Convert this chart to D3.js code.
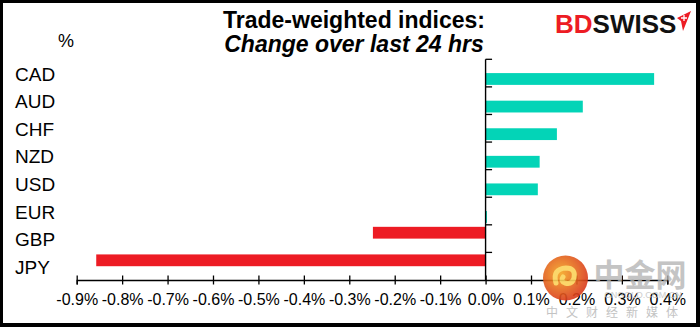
<!DOCTYPE html>
<html><head><meta charset="utf-8">
<script src="https://cdn.jsdelivr.net/npm/d3@7"></script>
<style>
body{margin:0;background:#fff}
svg{display:block;font-family:"Liberation Sans",Arial,sans-serif}
</style></head>
<body><svg id="c" width="700" height="327"></svg>
<script>
const categories = ["CAD","AUD","CHF","NZD","USD","EUR","GBP","JPY"];
const gains  = [0.371, 0.214, 0.157, 0.119, 0.115, 0.003, 0, 0];
const losses = [0, 0, 0, 0, 0, 0, -0.248, -0.857];
const xTicks = [-0.9,-0.8,-0.7,-0.6,-0.5,-0.4,-0.3,-0.2,-0.1,0.0,0.1,0.2,0.3,0.4];
const titleLines = ["Trade-weighted indices:", "Change over last 24 hrs"];
const unitLabel = "%";

const svg = d3.select("#c");
const W = 700, H = 327;
svg.append("rect").attr("width",W).attr("height",H).attr("fill","#fff");

const x = d3.scaleLinear().domain([-0.9, 0.4]).range([76.7, 667.3]);
const y = d3.scaleBand().domain(categories).range([59.3, 280]).padding(0);
const sub = d3.scaleBand().domain(["loss","gain"]).range([0, y.bandwidth()]).paddingInner(0).paddingOuter(0.17);

const series = [
  {key:"loss", values:losses, color:"#ED1C24"},
  {key:"gain", values:gains, color:"#03D4B7"}
];

// bars
series.forEach(s => {
  svg.append("g").selectAll("rect")
    .data(categories.map((c,i)=>({c, v:s.values[i]})).filter(d=>d.v!==0))
    .join("rect")
    .attr("x", d => Math.min(x(0), x(d.v)))
    .attr("width", d => Math.abs(x(d.v) - x(0)))
    .attr("y", d => y(d.c) + sub(s.key))
    .attr("height", sub.bandwidth())
    .attr("fill", s.color);
});

// x axis
const xAxis = svg.append("g").attr("transform","translate(0,280)")
  .call(d3.axisBottom(x).tickValues(xTicks).tickSizeOuter(0).tickSize(4.5)
        .tickFormat(d => d.toFixed(1) + "%"));
xAxis.select(".domain").attr("stroke","#000").attr("stroke-width",1.4);
xAxis.selectAll(".tick line").attr("y1",-4.5).attr("y2",4.5).attr("stroke","#000").attr("stroke-width",1.3);
xAxis.selectAll(".tick text").attr("y",25).attr("dy",0)
  .attr("font-size",16).attr("fill","#000")
  .attr("font-family","'Liberation Sans',Arial,sans-serif");

// y axis (at zero)
const yAxis = svg.append("g");
yAxis.append("line").attr("x1",x(0)).attr("x2",x(0))
  .attr("y1",y.range()[0]).attr("y2",y.range()[1])
  .attr("stroke","#000").attr("stroke-width",1.4);
yAxis.selectAll("line.t").data(categories).join("line").attr("class","t")
  .attr("x1",x(0)).attr("x2",x(0)+6.5)
  .attr("y1",d=>y(d)).attr("y2",d=>y(d))
  .attr("stroke","#000").attr("stroke-width",1.3);

// category labels
svg.append("g").selectAll("text").data(categories).join("text")
  .attr("x",15).attr("y",d=>y(d)+y.bandwidth()/2+1)
  .attr("dominant-baseline","central")
  .attr("font-size",19).attr("fill","#000").text(d=>d);

// unit
svg.append("text").attr("x",66).attr("y",47).attr("text-anchor","middle")
  .attr("font-size",18).text(unitLabel);

// title
svg.append("text").attr("x",354).attr("y",28).attr("text-anchor","middle")
  .attr("font-size",23).attr("font-weight","bold").text(titleLines[0]);
svg.append("text").attr("x",354).attr("y",52).attr("text-anchor","middle")
  .attr("font-size",23).attr("font-weight","bold").attr("font-style","italic").text(titleLines[1]);

// logo
const logo = svg.append("text").attr("x",555).attr("y",33)
  .attr("font-size",26).attr("font-weight","bold");
logo.append("tspan").attr("fill","#ED1C24").text("BD");
logo.append("tspan").attr("fill","#111").text("SWISS");
svg.append("path").attr("d","M677,18 L691,11 L683,31 L681,21 Z").attr("fill","#ED1C24");
svg.append("path").attr("d","M684,15 v6 M681,18 h6").attr("stroke","#fff").attr("stroke-width",1.3);

// watermark
const wm = svg.append("g").attr("opacity",0.9);
const grad = svg.append("defs").append("radialGradient").attr("id","wg").attr("cx","40%").attr("cy","40%").attr("r","65%");
grad.append("stop").attr("offset","0%").attr("stop-color","#F5A623");
grad.append("stop").attr("offset","100%").attr("stop-color","#D8351A");
wm.append("circle").attr("cx",565.5).attr("cy",278).attr("r",22.5).attr("fill","url(#wg)");
wm.append("path").attr("d","M556,283 q-4,-14 10,-15 q10,0 8,10 q-2,7 -9,5 q-5,-2 -2,-6").attr("fill","none")
  .attr("stroke","#FBD25A").attr("stroke-width",5).attr("stroke-linecap","round");
wm.append("text").attr("x",640).attr("y",286).attr("text-anchor","middle")
  .attr("font-family","'Noto Sans CJK SC',sans-serif").attr("font-weight","bold")
  .attr("font-size",31).attr("fill","#b3b3b3").attr("opacity",0.85).text("中金网");
wm.append("text").attr("x",643).attr("y",298).attr("text-anchor","middle")
  .attr("font-size",9).attr("fill","#c8c8c8").text("CNGOLD.COM.CN");
wm.append("text").attr("x",616).attr("y",317).attr("text-anchor","middle")
  .attr("font-family","'Noto Sans CJK SC',sans-serif")
  .attr("font-size",12).attr("letter-spacing",8).attr("fill","#bdbdbd").text("中文财经新媒体");

// frame
svg.append("rect").attr("x",1.5).attr("y",1.5).attr("width",W-4).attr("height",H-3.5)
  .attr("fill","none").attr("stroke","#000").attr("stroke-width",3);
svg.append("line").attr("x1",W-2).attr("x2",W-2).attr("y1",0).attr("y2",H).attr("stroke","#000").attr("stroke-width",4);
svg.append("line").attr("x1",0).attr("x2",W).attr("y1",H-2).attr("y2",H-2).attr("stroke","#000").attr("stroke-width",4);
</script>
</body></html>
